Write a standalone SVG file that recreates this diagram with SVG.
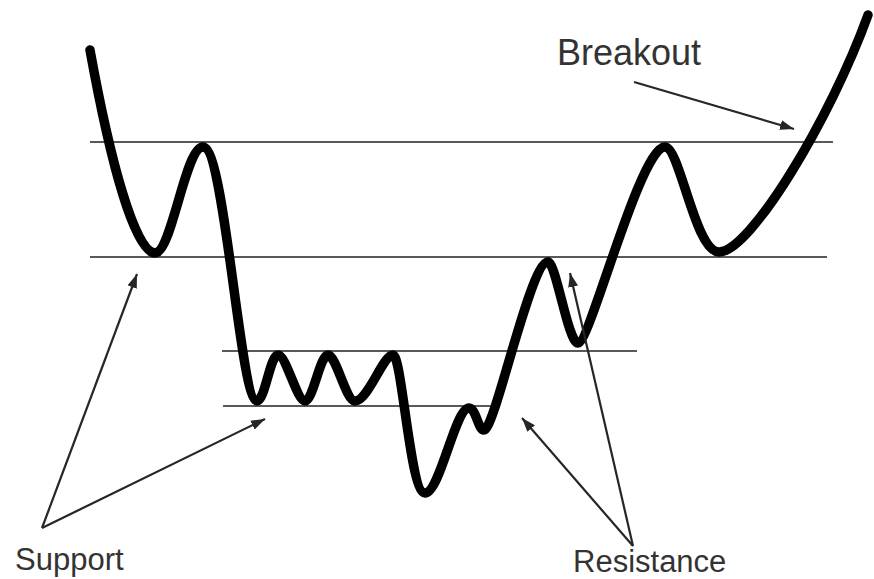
<svg xmlns="http://www.w3.org/2000/svg" width="874" height="579" viewBox="0 0 874 579">
<defs>
<marker id="ah" markerWidth="14" markerHeight="10" refX="14" refY="5" orient="auto" markerUnits="userSpaceOnUse">
<path d="M0,0 L14,5 L0,10 Z" fill="#262626"/>
</marker>
<style>
.lvl{stroke:#222;stroke-width:1.6;fill:none}
.arr{stroke:#262626;stroke-width:2.2;fill:none;marker-end:url(#ah)}
.price{stroke:#000;stroke-width:9.5;fill:none;stroke-linecap:round;stroke-linejoin:round}
.lbl{font-family:"Liberation Sans",Arial,sans-serif;fill:#333}
</style>
</defs>
<rect width="874" height="579" fill="#fff"/>
<g id="levels">
<line class="lvl" x1="90" y1="142" x2="833" y2="142"/>
<line class="lvl" x1="90" y1="257" x2="827" y2="257"/>
<line class="lvl" x1="222" y1="351" x2="637" y2="351"/>
<line class="lvl" x1="223" y1="406" x2="494" y2="406"/>
</g>
<g id="price">
<path class="price" d="M90,50 C110,160 135,253 155,253 C172,253 185,147 203,147 C225,147 240,401 257,401 C265,401 270,355 278,355 C286,355 297,401 305,401 C313,401 320,355 328,355 C336,355 346,401 355,401 C368,401 383,355 393,355 C402,355 410,493 425,493 C440,493 455,408 469,408 C476,408 478,430 484,430 C495,430 530,262 548,262 C556,262 568,343 578,343 C590,343 640,147 665,147 C680,147 695,252 719,252 C750,252 830,120 868,15"/>
</g>
<g id="connectors">
<line class="arr" x1="42" y1="528" x2="137" y2="274"/>
<line class="arr" x1="42" y1="528" x2="265" y2="419"/>
<line class="arr" x1="633" y1="546" x2="522" y2="418"/>
<line class="arr" x1="633" y1="546" x2="570" y2="273"/>
<line class="arr" x1="634" y1="82" x2="794" y2="129"/>
</g>
<g id="breakout"><text class="lbl" x="557" y="65" font-size="36">Breakout</text></g>
<g id="support"><text class="lbl" x="15" y="570" font-size="31">Support</text></g>
<g id="resistance"><text class="lbl" x="573" y="572" font-size="31">Resistance</text></g>
</svg>
